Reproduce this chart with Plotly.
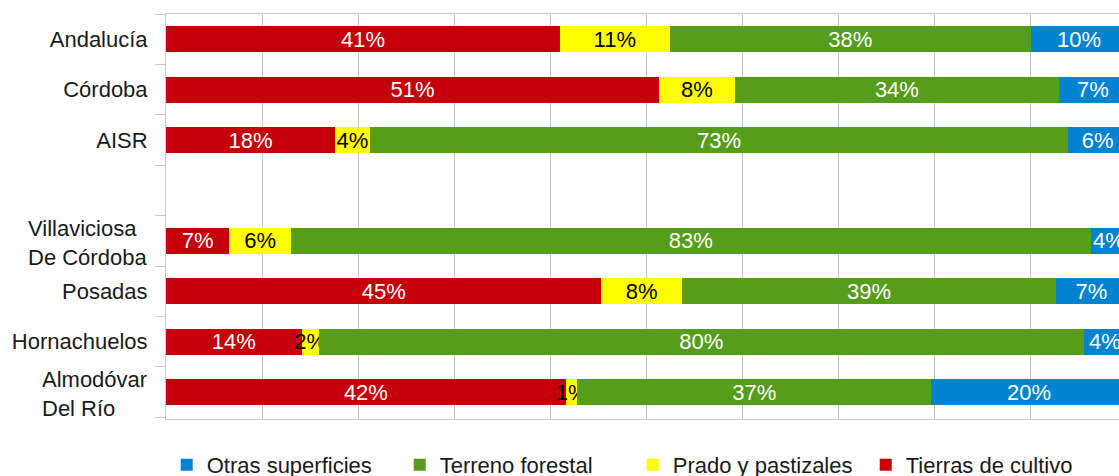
import plotly.graph_objects as go

categories = ["Andalucía", "Córdoba", "AISR", " ", "Villaviciosa<br>De Córdoba",
              "Posadas", "Hornachuelos", "Almodóvar<br>Del Río"]

# shares in % (blank row is a spacer)
tierras = [41.0, 51.3, 17.6, None, 6.6, 45.3, 14.1, 41.6]
prado = [11.4, 7.9, 3.6, None, 6.4, 8.4, 1.8, 1.2]
forestal = [37.6, 33.7, 72.7, None, 83.2, 38.9, 79.6, 36.8]
otras = [10.0, 7.1, 6.1, None, 3.8, 7.4, 4.4, 20.4]

series = [
    ("Tierras de cultivo", tierras, "#C5000B", "white"),
    ("Prado y pastizales", prado, "#FFFF00", "black"),
    ("Terreno forestal", forestal, "#579D1C", "white"),
    ("Otras superficies", otras, "#0084D1", "white"),
]

FONT = "Liberation Sans, Arial, sans-serif"
FS = 22

fig = go.Figure()
for name, vals, color, tcolor in series:
    fig.add_trace(go.Bar(
        y=categories, x=vals, name=name, orientation="h",
        marker=dict(color=color, line=dict(width=0)),
        texttemplate="%{x:.0f}%", textposition="inside",
        insidetextanchor="middle", textangle=0, constraintext="none",
        textfont=dict(color=tcolor, size=FS, family=FONT),
        hoverinfo="skip",
    ))

# multi-line labels are left aligned in the reference
annotations = []
ticktext = []
for c in categories:
    if "<br>" in c:
        ticktext.append("")
        annotations.append(dict(
            x=0, xref="paper", y=c, yref="y", text=c, showarrow=False,
            xanchor="right", align="left", xshift=-17, yshift=-2,
            font=dict(size=FS, family=FONT, color="#1a1a1a"),
        ))
    else:
        ticktext.append(c)

# figure is 10px taller than the window so the legend can sit low like the
# reference; the overflow is hidden by the page script below
fig.update_layout(
    barmode="stack",
    bargap=0.48,
    width=1119, height=486,
    margin=dict(l=166, r=0, t=14, b=67),
    paper_bgcolor="white", plot_bgcolor="white",
    font=dict(family=FONT, size=FS, color="#1a1a1a"),
    annotations=annotations,
    legend=dict(
        orientation="h", traceorder="reversed",
        x=0.149, xref="container", xanchor="left",
        y=0, yref="container", yanchor="bottom",
        entrywidth=188, itemwidth=30,
        font=dict(size=FS, family=FONT, color="#1a1a1a"),
    ),
    xaxis=dict(
        range=[0, 99.16], dtick=10, showticklabels=False,
        showgrid=True, gridcolor="#c8c8c8", gridwidth=1,
        zeroline=False, showline=True, linecolor="#c8c8c8", mirror=True,
        ticks="", fixedrange=True, automargin=False,
    ),
    yaxis=dict(
        type="category", categoryorder="array", categoryarray=categories,
        tickvals=categories, ticktext=ticktext,
        autorange="reversed", tickson="boundaries", ticks="outside",
        ticklen=10, tickcolor="#c8c8c8", showgrid=False,
        ticklabelstandoff=13, automargin=False,
        showline=True, linecolor="#c8c8c8", zeroline=False,
    ),
)

# drop the default page margin so the figure sits at the window corner
fig.write_html("out.html", config={"displayModeBar": False},
               post_script="document.body.style.margin='0';"
                           "document.body.style.overflow='hidden';")
